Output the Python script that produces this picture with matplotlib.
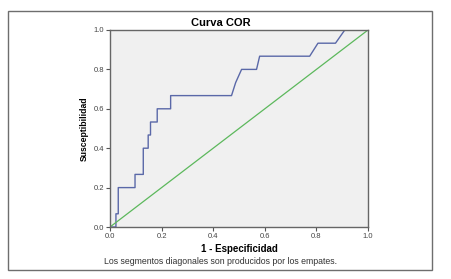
import matplotlib.pyplot as plt
from matplotlib.patches import Rectangle

# datos de la curva COR
fpr = [0.0, 0.023, 0.023, 0.023, 0.032, 0.032, 0.097, 0.097, 0.129, 0.129, 0.148, 0.148,
       0.157, 0.157, 0.183, 0.183, 0.235, 0.235, 0.471, 0.487, 0.510, 0.568, 0.580,
       0.774, 0.806, 0.874, 0.910, 1.0]
tpr = [0.0, 0.0, 0.0, 0.067, 0.067, 0.200, 0.200, 0.267, 0.267, 0.400, 0.400, 0.467,
       0.467, 0.533, 0.533, 0.600, 0.600, 0.667, 0.667, 0.733, 0.800, 0.800, 0.867,
       0.867, 0.933, 0.933, 1.0, 1.0]
ref = [0.0, 1.0]
ticks = [0.0, 0.2, 0.4, 0.6, 0.8, 1.0]

W, H = 451, 279
fig = plt.figure(figsize=(W / 100, H / 100), dpi=100)
plt.rcParams['font.family'] = ['Liberation Sans', 'DejaVu Sans']

## marco exterior ##
fig.patches.append(Rectangle((8 / W, 1 - 270 / H), (432 - 8) / W, (270 - 11) / H,
                             transform=fig.transFigure, fill=False,
                             edgecolor='#6e6e6e', linewidth=1.0))

ax = fig.add_axes([110 / W, 1 - 227 / H, (368 - 110) / W, (227 - 30) / H])
ax.set_facecolor('#f0f0f0')
ax.plot(fpr, tpr, color='#5a68a8', linewidth=1.0)
ax.plot(ref, ref, color='#5cb85c', linewidth=0.9)
ax.set_xlim(0, 1)
ax.set_ylim(0, 1)
ax.set_xticks(ticks)
ax.set_yticks(ticks)
ax.set_xticklabels(['%.1f' % t for t in ticks])
ax.set_yticklabels(['%.1f' % t for t in ticks])
ax.tick_params(length=3, width=0.8, color='#555555', labelsize=5.5,
               labelcolor='#444444', pad=1)
for s in ax.spines.values():
    s.set_color('#666666')
    s.set_linewidth(1.0)

# titulo algo desplazado a la izquierda, como en el original
fig.text(221 / W, 1 - 23 / H, 'Curva COR', fontsize=8, fontweight='bold',
         ha='center', va='center')
ax.set_xlabel('1 - Especificidad', fontsize=7, fontweight='bold', labelpad=3)
ax.set_ylabel('Susceptibilidad', fontsize=6.2, fontweight='bold', labelpad=4)
fig.text(220 / W, 1 - 262 / H, 'Los segmentos diagonales son producidos por los empates.',
         fontsize=6.3, color='#333333', ha='center', va='center')

fig.savefig('out.png', dpi=100)
